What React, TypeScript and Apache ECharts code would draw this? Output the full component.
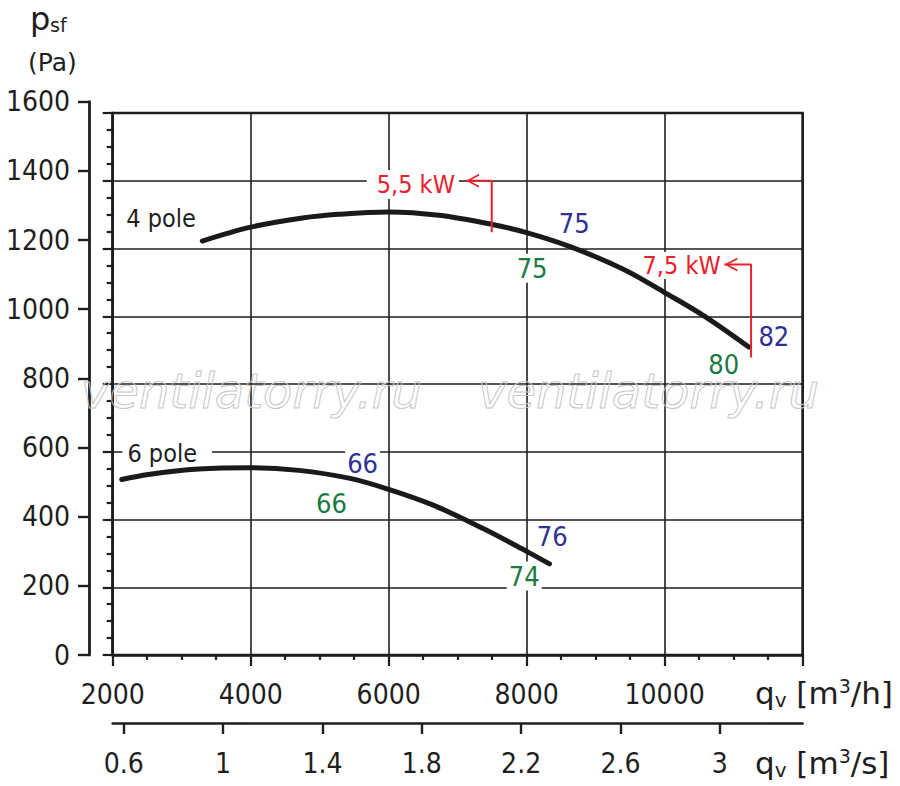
import React, { useEffect, useRef } from "react";
import * as echarts from "echarts";

// ---- Data ----
// Flow in m3/h, pressure in Pa
const fourPoleCurve: [number, number][] = [
  [3299, 1222], [4000, 1263], [4750, 1290], [5270, 1301], [6000, 1308],
  [6730, 1298], [7500, 1271], [8000, 1247], [8650, 1204], [9430, 1136],
  [10000, 1070], [10570, 1001], [11220, 909],
];
const sixPoleCurve: [number, number][] = [
  [2131, 518], [2517, 533], [3244, 549], [4000, 553], [4698, 545],
  [5424, 522], [6000, 489], [6637, 443], [7363, 374], [8000, 306], [8331, 269],
];
// motor power limit markers
const power55Line: [number, number][] = [[7494, 1248], [7494, 1400], [7121, 1400]];
const power75Line: [number, number][] = [[11253, 878], [11253, 1153], [10866, 1153]];
const arrowTips: [number, number][] = [[7121, 1400], [10866, 1153]];

// annotation texts anchored in data coordinates
const curveNames = [
  { text: "4 pole", x: 2702, y: 1289 },
  { text: "6 pole", x: 2790, y: 596 },
];
const powerTexts = [
  { text: "5,5 kW", x: 6350, y: 1389 },
  { text: "7,5 kW", x: 10246, y: 1150 },
];
const blueNumbers = [
  { text: "75", x: 8689, y: 1274 },
  { text: "82", x: 11583, y: 941 },
  { text: "66", x: 5622, y: 566 },
  { text: "76", x: 8372, y: 351 },
];
const greenNumbers = [
  { text: "75", x: 8079, y: 1142 },
  { text: "80", x: 10856, y: 858 },
  { text: "66", x: 5172, y: 448 },
  { text: "74", x: 7965, y: 233 },
];

const flowMin = 2000;
const flowMax = 12000;
const flowStep = 2000;
const pMin = 0;
const pMax = 1600;
const pStep = 200;
const flowSecTicks = [0.6, 1, 1.4, 1.8, 2.2, 2.6, 3];

const INK = "#1e1e1e";
const RED = "#e8212e";
const BLUE = "#2e3192";
const GREEN = "#1b7a43";
const NUM_FONT = '"DejaVu Sans Condensed", "DejaVu Sans", sans-serif';
const TXT_FONT = '"DejaVu Sans", sans-serif';

export default function App() {
  const ref = useRef<HTMLDivElement>(null);

  useEffect(() => {
    document.body.style.margin = "0";
    if (!ref.current) return;
    const chart = echarts.init(ref.current, undefined, { renderer: "svg" });

    const labelItem = (
      t: { text: string; x: number; y: number },
      color: string,
      fontSize: number,
      padding: number[] = [1, 2, 1, 2]
    ) => ({
      name: t.text,
      value: [t.x, t.y],
      label: {
        show: true,
        formatter: "{b}",
        color,
        opacity: 1,
        fontSize,
        fontFamily: NUM_FONT,
        backgroundColor: "#ffffff",
        textBorderWidth: 0,
        padding,
      },
    });

    const labelData = [
      labelItem(curveNames[0], INK, 25, [1, 2, 1, 2]),
      labelItem(curveNames[1], INK, 25, [2, 15, 2, 5]),
      labelItem(powerTexts[0], RED, 25, [2, 4, 2, 10]),
      labelItem(powerTexts[1], RED, 25, [1, 2, 1, 2]),
      ...blueNumbers.map((t) => labelItem(t, BLUE, 27)),
      ...greenNumbers.map((t) => labelItem(t, GREEN, 27)),
    ];

    const richName = {
      a: { fontSize: 31, fontFamily: TXT_FONT, lineHeight: 34, fill: INK },
      b: { fontSize: 20, fontFamily: TXT_FONT, lineHeight: 20, verticalAlign: "bottom", fill: INK },
      c: { fontSize: 19, fontFamily: TXT_FONT, lineHeight: 19, verticalAlign: "top", fill: INK },
    };

    const option: any = {
      animation: false,
      backgroundColor: "#ffffff",
      grid: [
        {
          left: 112.7, top: 113, width: 689.9, height: 542,
          show: true, borderColor: INK, borderWidth: 2.6,
          backgroundColor: "transparent", outerBoundsMode: "none",
        },
        { left: 89, top: 101.7, width: 1, height: 553.3, outerBoundsMode: "none" },
        { left: 112.7, top: 722, width: 689.9, height: 1, outerBoundsMode: "none" },
      ],
      xAxis: [
        {
          gridIndex: 0, type: "value", min: flowMin, max: flowMax, interval: flowStep,
          axisLine: { show: true, lineStyle: { color: INK, width: 2.6 } },
          axisTick: { show: true, length: 11, lineStyle: { color: INK, width: 2.2 } },
          minorTick: { show: true, splitNumber: 4, length: 5, lineStyle: { color: INK, width: 2.2 } },
          splitLine: { show: true, lineStyle: { color: INK, width: 1.6 } },
          minorSplitLine: { show: false },
          axisLabel: {
            show: true, showMaxLabel: false, margin: 25, fontSize: 28, color: INK,
            fontFamily: NUM_FONT, formatter: (v: number) => String(v),
          },
        },
        { gridIndex: 1, type: "value", show: false, min: 0, max: 1 },
        {
          gridIndex: 2, type: "value", min: flowMin / 3600, max: flowMax / 3600,
          position: "bottom",
          axisLine: { show: true, onZero: false, lineStyle: { color: INK, width: 2.6 } },
          axisTick: { show: true, length: 11, customValues: flowSecTicks, lineStyle: { color: INK, width: 2.4 } },
          splitLine: { show: false },
          axisLabel: {
            show: true, customValues: flowSecTicks, margin: 26, fontSize: 28, color: INK,
            fontFamily: NUM_FONT, formatter: (v: number) => String(+Number(v).toFixed(1)),
          },
        },
      ],
      yAxis: [
        {
          gridIndex: 0, type: "value", min: pMin, max: pMax, interval: pStep,
          axisLine: { show: true, lineStyle: { color: INK, width: 2.6 } },
          axisTick: { show: true, length: 10, lineStyle: { color: INK, width: 2.2 } },
          minorTick: { show: true, splitNumber: 4, length: 6, lineStyle: { color: INK, width: 2.2 } },
          splitLine: { show: true, lineStyle: { color: INK, width: 1.6 } },
          axisLabel: { show: false },
        },
        {
          gridIndex: 1, type: "value", min: pMin, max: pMax, interval: pStep,
          axisLine: { show: true, lineStyle: { color: INK, width: 2.8 } },
          axisTick: { show: true, length: 11, lineStyle: { color: INK, width: 2.4 } },
          splitLine: { show: false },
          axisLabel: {
            show: true, margin: 19, fontSize: 28, color: INK, fontFamily: NUM_FONT,
            formatter: (v: number) => String(v),
          },
        },
        { gridIndex: 2, type: "value", show: false, min: 0, max: 1 },
      ],
      series: [
        {
          name: "4 pole", type: "line", xAxisIndex: 0, yAxisIndex: 0,
          data: fourPoleCurve, smooth: 0.35, symbol: "none", z: 4,
          lineStyle: { color: "#1a1a1a", width: 5, cap: "round" }, silent: true,
        },
        {
          name: "6 pole", type: "line", xAxisIndex: 0, yAxisIndex: 0,
          data: sixPoleCurve, smooth: 0.35, symbol: "none", z: 4,
          lineStyle: { color: "#1a1a1a", width: 5, cap: "round" }, silent: true,
        },
        {
          name: "5,5 kW", type: "line", xAxisIndex: 0, yAxisIndex: 0,
          data: power55Line, symbol: "none", z: 4,
          lineStyle: { color: RED, width: 2 }, silent: true,
        },
        {
          name: "7,5 kW", type: "line", xAxisIndex: 0, yAxisIndex: 0,
          data: power75Line, symbol: "none", z: 4,
          lineStyle: { color: RED, width: 2 }, silent: true,
        },
        {
          name: "arrows", type: "scatter", xAxisIndex: 0, yAxisIndex: 0,
          data: arrowTips, z: 4,
          symbol: "path://M14,0.6 L0,7 L14,13.4 L14,11.6 L3.8,7 L14,2.4 Z",
          symbolSize: [13, 14], symbolOffset: [6.5, 0],
          itemStyle: { color: RED, opacity: 1 }, silent: true,
        },
        {
          name: "labels", type: "scatter", xAxisIndex: 0, yAxisIndex: 0,
          data: labelData, z: 3, symbolSize: 1,
          itemStyle: { color: "rgba(0,0,0,0)", opacity: 1 },
          label: { show: true, position: "inside", opacity: 1 }, silent: true,
        },
      ],
      graphic: [
        {
          type: "text", z: 10,
          style: { text: "p", x: 30, y: 19, fill: INK, fontSize: 32, lineHeight: 26, fontFamily: TXT_FONT, verticalAlign: "middle" },
        },
        {
          type: "text", z: 10,
          style: { text: "sf", x: 50, y: 25, fill: INK, fontSize: 19, lineHeight: 20, fontFamily: TXT_FONT, verticalAlign: "middle" },
        },
        {
          type: "text", z: 10,
          style: { text: "(Pa)", x: 28, y: 62, fill: INK, fontSize: 25, fontFamily: TXT_FONT, verticalAlign: "middle" },
        },
        {
          type: "text", z: 10,
          style: {
            text: "{a|q}{b|v}{a| [m}{c|3}{a|/h]}", x: 755, y: 693, verticalAlign: "middle", fill: INK,
            rich: richName,
          },
        },
        {
          type: "text", z: 10,
          style: {
            text: "{a|q}{b|v}{a| [m}{c|3}{a|/s]}", x: 755, y: 763, verticalAlign: "middle", fill: INK,
            rich: richName,
          },
        },
        {
          type: "text", z: 9, silent: true,
          style: {
            text: "ventilatorry.ru", x: 81, y: 391, verticalAlign: "middle",
            font: 'italic 48px "DejaVu Sans", sans-serif',
            fill: "rgba(255,255,255,0)", stroke: "#c6c6c6", lineWidth: 1,
          },
        },
        {
          type: "text", z: 9, silent: true,
          style: {
            text: "ventilatorry.ru", x: 478, y: 391, verticalAlign: "middle",
            font: 'italic 48px "DejaVu Sans", sans-serif',
            fill: "rgba(255,255,255,0)", stroke: "#c6c6c6", lineWidth: 1,
          },
        },
      ],
    };

    chart.setOption(option);
    return () => chart.dispose();
  }, []);

  return <div ref={ref} style={{ width: 900, height: 786 }} />;
}
